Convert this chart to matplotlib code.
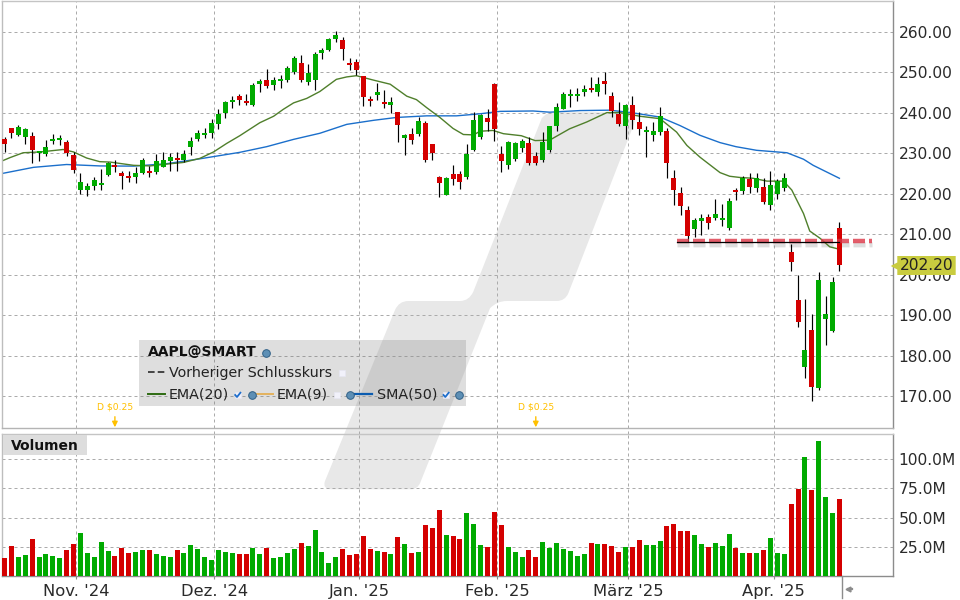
import matplotlib
matplotlib.use("Agg")
import numpy as np
import matplotlib.pyplot as plt
from matplotlib.path import Path
from matplotlib.patches import PathPatch, Rectangle, Polygon
from matplotlib.lines import Line2D

opens = [233.4,236.1,234.4,233.9,234.2,230.1,229.7,232.9,233.2,232.7,
 229.5,220.9,220.9,221.8,222.1,224.5,227.0,225.0,224.3,224.1,
 225.0,225.5,225.3,226.5,228.0,228.7,228.2,231.5,233.4,234.4,
 234.9,237.1,239.8,242.6,244.1,242.9,241.8,247.0,248.0,246.8,
 247.8,248.0,250.0,252.2,247.5,248.0,254.7,255.4,258.1,257.9,
 252.2,252.4,249.0,243.3,244.3,242.6,241.8,240.1,233.7,234.7,
 234.7,237.4,232.2,224.1,219.6,224.8,224.8,224.1,230.7,234.1,
 238.6,247.0,229.9,227.2,228.5,231.2,232.4,229.4,228.2,230.9,
 236.8,241.0,244.0,244.2,245.0,246.0,245.0,247.9,244.2,239.6,
 236.8,241.8,237.6,235.1,234.4,235.1,235.4,223.8,220.1,215.9,
 211.2,213.2,214.2,213.9,213.5,211.5,220.9,220.6,223.6,221.4,
 221.6,217.2,219.9,221.4,205.6,193.7,177.2,186.4,172.0,189.1,
 186.1,211.5]
closes = [232.2,234.9,236.4,235.9,230.7,230.5,231.5,233.4,233.7,230.0,
 225.9,222.8,221.8,223.3,222.6,227.5,226.5,224.3,223.8,225.0,
 228.2,225.0,228.0,228.2,229.0,228.2,229.7,232.9,234.9,234.9,
 237.4,239.6,242.6,243.1,243.1,242.4,246.8,247.8,246.5,248.0,
 248.2,251.0,253.4,248.0,249.7,254.4,255.4,258.1,259.1,255.6,
 251.7,250.5,243.8,242.8,245.0,242.1,242.6,236.9,234.4,233.2,
 237.9,228.3,230.0,222.6,223.8,223.6,222.8,229.7,238.1,239.3,
 237.6,235.9,228.0,232.7,232.4,233.1,227.5,227.5,232.7,236.8,
 241.5,244.5,244.5,244.7,245.7,245.5,247.0,247.0,240.3,237.3,
 241.8,238.1,235.9,235.6,235.4,239.1,227.5,220.8,216.9,209.5,
 213.4,213.9,212.7,215.1,214.0,218.2,220.4,223.9,221.6,223.8,
 217.9,222.1,223.1,223.8,203.1,188.3,181.4,172.3,198.7,190.3,
 198.2,202.4]
highs = [234.0,236.1,236.9,236.2,235.1,230.6,233.2,234.7,234.4,233.2,
 230.3,225.2,222.7,224.0,226.0,227.8,228.4,225.5,225.5,226.5,
 228.7,226.8,229.9,230.2,230.0,230.2,230.7,233.9,235.6,236.1,
 238.4,240.8,242.8,244.1,244.6,244.6,247.3,248.2,250.7,248.7,
 249.2,251.5,253.9,254.2,251.9,254.9,255.9,258.4,260.1,258.6,
 253.4,253.2,249.0,244.1,247.3,245.5,243.8,240.1,234.7,236.2,
 238.9,237.9,232.2,224.3,224.1,227.0,225.6,232.2,240.1,239.7,
 240.8,247.2,231.7,233.1,232.7,233.6,233.9,230.4,235.1,236.8,
 242.3,245.2,245.7,246.0,246.7,248.7,248.9,249.9,245.0,242.5,
 242.0,244.0,240.1,236.6,237.8,241.3,236.1,225.8,221.6,216.9,
 213.9,215.1,215.1,218.6,217.4,218.9,221.4,224.3,225.1,225.1,
 223.8,225.6,223.6,225.1,207.6,199.9,194.0,190.3,200.7,194.7,
 199.4,213.0]
lows = [230.2,233.8,234.2,232.2,227.6,228.1,229.2,232.2,231.9,229.4,
 225.0,219.9,219.4,220.9,220.9,224.3,225.3,221.1,222.8,222.6,
 224.8,224.1,224.8,226.5,225.5,225.5,227.8,229.5,232.9,233.7,
 233.7,235.9,238.6,241.1,241.9,241.9,241.6,245.0,246.0,245.5,
 246.0,247.5,249.5,247.5,246.8,245.5,253.2,255.1,257.4,252.9,
 250.5,249.2,241.6,241.6,243.1,241.1,239.9,232.7,229.5,232.2,
 234.2,227.8,228.3,219.1,219.6,222.1,221.1,223.6,230.5,233.6,
 235.4,233.1,225.3,226.2,228.0,230.2,227.0,227.0,227.7,230.4,
 235.4,240.8,241.5,242.8,244.0,245.0,244.0,244.5,238.8,236.8,
 233.4,235.9,234.4,229.0,232.9,234.4,223.8,217.1,214.7,208.0,
 209.2,209.7,211.2,213.4,212.0,211.0,218.4,219.9,220.1,220.4,
 217.4,215.9,218.7,220.6,200.9,187.1,174.5,168.8,171.5,182.7,
 185.9,200.9]
volumes = [15.4,25.7,16.3,18.0,31.7,16.3,18.9,17.1,15.4,22.3,
 27.4,36.9,19.7,16.3,29.1,21.4,17.1,24.0,19.7,20.6,
 22.3,22.3,18.9,17.1,16.3,22.3,19.7,26.6,23.1,16.3,
 13.7,22.3,20.6,19.7,18.9,18.9,24.0,18.9,24.0,15.4,
 16.3,19.7,23.1,28.3,25.7,39.4,20.6,11.1,16.3,23.1,
 18.0,18.9,34.3,23.1,21.4,20.6,18.9,33.4,27.4,19.7,
 20.6,43.7,41.1,56.6,35.1,34.3,31.7,54.0,44.6,26.6,
 24.9,54.9,43.7,24.9,20.6,16.3,22.3,16.3,29.1,24.0,
 28.3,23.1,21.4,17.1,18.9,28.3,27.4,27.4,25.7,20.6,
 24.9,24.9,30.9,26.6,26.6,30.0,42.9,44.6,38.6,38.6,
 35.1,27.4,24.9,28.3,25.7,36.0,24.0,19.7,19.7,19.7,
 22.3,32.6,19.7,18.9,61.7,74.6,102.0,73.7,115.7,67.7,
 54.0,66.0]

sma_idx = [-0.6,4.2,9,13.8,18.7,23.5,28.3,34.1,38,41.9,45.7,49.6,53.5,56.8,61.2,65.5,68.9,71.8,76.6,79,83.4,87.7,90.6,95,97.9,100.8,103.7,106,109,113.4,115.8,117.2,121]
sma_val = [224.9,226.5,227.2,226.85,226.8,227.4,228.6,230.2,231.6,233.4,234.9,237.1,238.1,238.8,239.2,239.2,239.7,240.3,240.4,240.1,240.5,240.6,240.05,238.9,236.8,234.4,232.6,231.6,230.7,230.1,228.5,227.0,223.8]
ema20_idx = [-0.6,0.8,2.7,5.2,8.5,10,11.9,13.8,15.3,18.7,21.1,23.5,25.9,28.3,30.3,32.2,34.1,37,39,40.4,41.9,43.8,45.7,48.1,49.6,51,53.5,55.9,58.3,59.7,61.2,63.1,65,66.5,68,68.9,70.8,72.3,74.9,76.9,79,81.9,84.4,87.3,89.2,92.1,95,97.4,98.9,100.8,103.7,105.1,106.6,108.5,110.5,112.9,114.1,115.8,116.7,118.2,119.6,121]
ema20_val = [227.9,228.9,230.1,230.3,230.9,230.3,228.8,227.9,227.8,227.0,226.85,227.3,227.7,228.7,230.3,232.4,234.3,237.5,239.1,240.8,242.4,243.5,245.2,248.2,248.8,249.1,248.0,247.0,244.05,243.2,241.2,238.8,236.1,234.6,234.5,235.4,235.6,234.8,234.3,233.1,233.2,236.0,237.7,240.0,240.0,239.1,238.5,235.2,231.9,229.0,225.2,224.3,224.0,223.8,223.1,223.1,220.9,215.1,210.8,209.0,206.9,206.3]

price_ticks = [170,180,190,200,210,220,230,240,250,260]
price_labels = ["170.00","180.00","190.00","200.00","210.00","220.00","230.00","240.00","250.00","260.00"]
vol_ticks = [25,50,75,100]
vol_labels = ["25.0M","50.0M","75.0M","100.0M"]
month_pos = [10.43,30.43,51.43,71.43,90.43,111.45]
month_labels = ["Nov. '24","Dez. '24","Jan. '25","Feb. '25","März '25","Apr. '25"]
prev_close = 208.2
last_price = 202.20
dividend_idx = [16,77]
dividend_label = "D $0.25"

GREEN = "#00aa00"
RED = "#d40000"
GRID = "#ababab"

W, H = 960, 600
fig = plt.figure(figsize=(9.6, 6), dpi=100, facecolor="white")
plt.rcParams["font.family"] = "DejaVu Sans"

def px(x, y):
    return x / W, 1 - y / H

def axes_px(left, top, right, bottom):
    return fig.add_axes([left / W, 1 - bottom / H, (right - left) / W, (bottom - top) / H])

# watermark (decoration behind both panels)
verts = [(541.7,118.3),(547,112.3),(552,112.3),(624,112.3),(638,112.3),(634,124),(568.3,293.3),
         (565,301),(556.7,301),(506.7,301),(497,301),(490,308.3),(420,483.3),(417,489.3),(411,489.3),
         (332,489.3),(322,489.3),(325,481),(395,310),(399,301),(408.3,301),(460,301),(469,301),(473.3,291.7),(541.7,118.3)]
codes = [Path.MOVETO,Path.CURVE3,Path.CURVE3,Path.LINETO,Path.CURVE3,Path.CURVE3,Path.LINETO,
         Path.CURVE3,Path.CURVE3,Path.LINETO,Path.CURVE3,Path.CURVE3,Path.LINETO,Path.CURVE3,Path.CURVE3,
         Path.LINETO,Path.CURVE3,Path.CURVE3,Path.LINETO,Path.CURVE3,Path.CURVE3,Path.LINETO,Path.CURVE3,Path.CURVE3,Path.LINETO]
wm = PathPatch(Path([px(*v) for v in verts], codes), transform=fig.transFigure,
               facecolor="#e8e8e8", edgecolor="none", zorder=-5)
fig.add_artist(wm)

left, right = 1.5, 892.5
x_of = lambda p: (p - 4.5) / 6.9
xlim = (x_of(left), x_of(right))
ax = axes_px(left, 1, right, 428)
vx = axes_px(left, 433.5, right, 576)
for a in (ax, vx):
    a.patch.set_alpha(0)
    a.set_xlim(*xlim)
    a.set_axisbelow(True)
    a.grid(True, color=GRID, lw=0.72, linestyle=(0, (3, 3)))
    for s, c in (("top", "#c4c4c4"), ("left", "#bdbdbd"), ("right", "#8c8c8c"), ("bottom", "#b4b4b4")):
        a.spines[s].set_color(c)
        a.spines[s].set_linewidth(1.0)
    a.yaxis.tick_right()
    a.tick_params(axis="y", length=0, pad=4.5, labelsize=11.2, labelcolor="#2a2a2a")
    a.set_xticks(month_pos)
vx.spines["bottom"].set_color("#8c8c8c")
ax.set_ylim(260 - (428 - 31.5) / 4.055, 260 + 30.5 / 4.055)
ax.set_yticks(price_ticks)
ax.set_yticklabels(price_labels)
ax.tick_params(axis="x", length=0, labelbottom=False)
vtop = (576 - 433.5) * 25 / 29.17
vx.set_ylim(0, vtop)
vx.set_yticks(vol_ticks)
vx.set_yticklabels(vol_labels)
vx.set_xticks(month_pos)
vx.set_xticklabels(month_labels)
vx.tick_params(axis="x", length=2.5, width=0.8, color="#8c8c8c", pad=3.5, labelsize=11.8, labelcolor="#2a2a2a")

# gridline continuation through the gap between the panels
vx.vlines(month_pos, vtop, vtop * 1.04, colors=GRID, lw=0.72, linestyles=[(0, (3, 3))], clip_on=False)

idx = np.arange(len(opens))
o, c, h, l = map(np.array, (opens, closes, highs, lows))
cols = [GREEN if cc >= oo else RED for oo, cc in zip(o, c)]

# moving averages
ax.plot(sma_idx, sma_val, color="#1b6fcb", lw=1.0, zorder=2)
ax.plot(ema20_idx, ema20_val, color="#4f7f2b", lw=1.0, zorder=2)

# candles
ax.vlines(idx, l, h, colors="black", lw=0.85, zorder=3)
ax.bar(idx, np.abs(c - o), bottom=np.minimum(o, c), width=5 / 6.9, color=cols, linewidth=0, zorder=4)

# previous close line
d_start, d_end, d_line = x_of(677), x_of(872), 121
for off, alpha in ((0.55, 0.16), (0.95, 0.09)):
    ax.plot([d_start, d_end], [prev_close - off, prev_close - off], color="#777777", lw=3.6, alpha=alpha,
            linestyle=(0, (2.4, 0.8)), zorder=1)
ax.plot([d_start, d_end], [prev_close + 0.1, prev_close + 0.1], color="#dc3545", lw=3.2, alpha=0.8,
        linestyle=(0, (2.7, 0.9)), zorder=6, clip_on=False)
ax.plot([d_start, d_line], [prev_close, prev_close], color="black", lw=0.9, zorder=7)

# volume
vx.bar(idx, volumes, width=5 / 6.9, color=cols, linewidth=0, zorder=3)

# dividends
for d in dividend_idx:
    ax.annotate("", xy=(d, 162.4), xytext=(d, 165.0),
                arrowprops=dict(arrowstyle="-|>", color="#ffc000", lw=1.0, mutation_scale=8, shrinkA=0, shrinkB=0),
                annotation_clip=False)
    ax.text(d, 166.2, dividend_label, color="#ffc000", fontsize=6.6, ha="center", va="bottom", zorder=6)

# legend panel
fig.add_artist(Rectangle(px(139, 405.7), 327 / W, 65.7 / H, transform=fig.transFigure,
                         facecolor="#757575", alpha=0.24, edgecolor="none", zorder=5))
TEXT = "#222222"
fig.text(*px(147.5, 352.5), "AAPL@SMART", fontsize=10, fontweight="bold", color="#111111", va="center", zorder=6)
fig.text(*px(169, 373), "Vorheriger Schlusskurs", fontsize=10.3, color=TEXT, va="center", zorder=6)
fig.text(*px(169, 395), "EMA(20)", fontsize=10.3, color=TEXT, va="center", zorder=6)
fig.text(*px(277, 395), "EMA(9)", fontsize=10.3, color=TEXT, va="center", zorder=6)
fig.text(*px(377, 395), "SMA(50)", fontsize=10.3, color=TEXT, va="center", zorder=6)

def fline(xs, ys, **kw):
    pts = [px(a, b) for a, b in zip(xs, ys)]
    fig.add_artist(Line2D([p[0] for p in pts], [p[1] for p in pts], transform=fig.transFigure, zorder=6, **kw))

fline([148, 165], [372, 372], color="#444444", lw=1.4, linestyle=(0, (3.4, 1.6)))
fline([148, 165], [394, 394], color="#2e6b12", lw=1.4)
fline([256, 273], [394, 394], color="#e4b25e", lw=1.4)
fline([355, 372], [394, 394], color="#0b5cb0", lw=1.6)
for gx, gy in [(265.7, 352.7), (251.7, 395), (349.7, 395), (459.3, 395)]:
    fline([gx], [gy], marker="o", ms=5.5, mfc="#5d8fb5", mec="#2f5f86", mew=0.7, linestyle="none")
for bx, by in [(341.7, 373), (336.7, 395)]:
    fline([bx], [by], marker="s", ms=5, mfc="#f1f1fa", mec="#e6e6f2", mew=0.5, linestyle="none")
for bx, by in [(237.7, 395), (446, 395)]:
    fline([bx], [by], marker="s", ms=5, mfc="#f1f1fa", mec="#e6e6f2", mew=0.5, linestyle="none")
    fline([bx - 2.5, bx - 0.7, bx + 2.7], [by, by + 2, by - 2.3], color="#1e6ecb", lw=1.3)

# last price tag
tag = Polygon([px(897.3, 256), px(955.7, 256), px(955.7, 275), px(897.3, 275), px(897.3, 269.5), px(890.7, 266), px(897.3, 262.5)],
              closed=True, transform=fig.transFigure, facecolor="#c9cc3f", edgecolor="none", zorder=7)
fig.add_artist(tag)
fig.text(*px(926.5, 265.7), f"{last_price:.2f}", fontsize=11.2, color="#222222", ha="center", va="center", zorder=8)

# volume label
fig.add_artist(Rectangle(px(3.3, 455), 83.7 / W, 20.3 / H, transform=fig.transFigure, facecolor="#dddddd", edgecolor="none", zorder=5))
fig.text(*px(11, 446), "Volumen", fontsize=10, fontweight="bold", color="#111111", va="center", zorder=6)

# scroll handle at the bottom right
fline([842.3, 842.3], [576, 597.5], color="#8c8c8c", lw=1.0)
fline([847.5], [589], marker="<", ms=3.5, color="#8c8c8c", linestyle="none")
fline([848, 851.5], [589, 589], color="#8c8c8c", lw=1.6)

fig.savefig("out.png", dpi=100, facecolor="white")
